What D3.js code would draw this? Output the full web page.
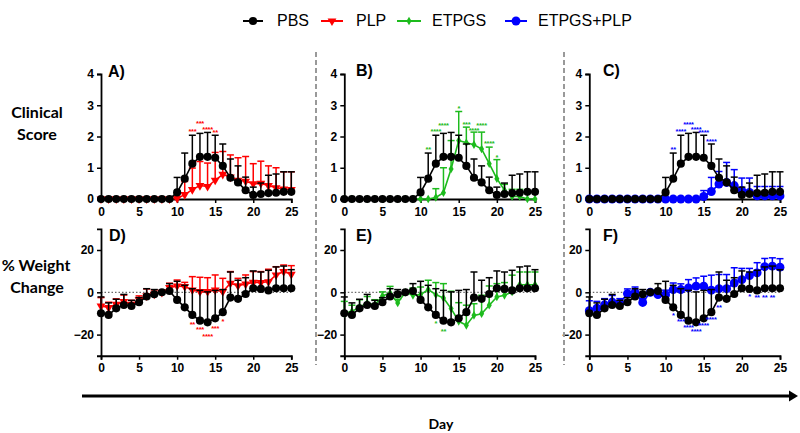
<!DOCTYPE html>
<html><head><meta charset="utf-8">
<script src="https://cdn.jsdelivr.net/npm/d3@7"></script>
<style>body{margin:0;background:#fff}</style>
</head><body><svg id="c" width="800" height="433"></svg>
<script>
const days = [0,1,2,3,4,5,6,7,8,9,10,11,12,13,14,15,16,17,18,19,20,21,22,23,24,25];
const xTicks = [0,5,10,15,20,25];
const scoreTicks = [0,1,2,3,4];
const weightTicks = [-20,0,20];
const seriesNames = ["PBS","PLP","ETPGS","ETPGS+PLP"];

// Clinical score (mean, SD upward)
const pbsScore   = [0,0,0,0,0,0,0,0,0,0,0.21,0.65,1.13,1.35,1.35,1.32,1.06,0.68,0.53,0.28,0.13,0.16,0.19,0.2,0.23,0.23];
const pbsScoreSD = [0,0,0,0,0,0,0,0,0,0,0.48,0.82,0.91,0.75,0.78,0.72,0.70,0.60,0.53,0.42,0.25,0.35,0.57,0.6,0.64,0.64];
const plpScore   = [0,0,0,0,0,0,0,0,0,0,0.02,0.14,0.3,0.43,0.4,0.6,0.79,0.7,0.6,0.57,0.49,0.5,0.43,0.36,0.32,0.3];
const plpScoreSD = [0,0,0,0,0,0,0,0,0,0,0,0.42,0.69,0.77,0.75,0.89,0.73,0.71,0.72,0.79,0.64,0.71,0.63,0.64,0.55,0.57];
const etpgsScore   = [0,0,0,0,0,0,0,0,0,0,0,0,0.05,0.2,0.96,1.87,1.8,1.74,1.6,1.13,0.65,0.28,0.08,0.08,0,0];
const etpgsScoreSD = [0,0,0,0,0,0,0,0,0,0,0,0,0.28,0.8,0.91,0.93,0.5,0.4,0.54,0.53,0.61,0.19,0.23,0.23,0,0];
const comboScore   = [0,0,0,0,0,0,0,0,0,0,0,0,0,0,0,0.08,0.24,0.48,0.53,0.43,0.27,0.21,0.1,0.1,0.1,0.1];
const comboScoreSD = [0,0,0,0,0,0,0,0,0,0,0,0,0,0,0,0.19,0.45,0.4,0.64,0.51,0.4,0.46,0.3,0.3,0.3,0.3];

// % weight change (mean, SD upward)
const pbsWeight   = [-9.9,-10.7,-7.6,-6.0,-6.5,-4.7,-2.0,-0.9,0,0.6,-3.6,-7.1,-10.7,-13.4,-14.2,-12.3,-9.4,-2.5,-3.1,-0.8,1.9,1.6,0.9,1.9,1.9,1.9];
const pbsWeightSD = [7.7,5.7,4.3,5,2.7,2.2,3.7,2.2,0,3.5,8.8,10.4,12.4,14.3,14.4,13.2,10.7,12.1,8.8,7.7,8.2,8,9.5,10.1,10.5,8.8];
const plpWeight   = [-6.5,-7.2,-5.7,-4.4,-5.7,-3.6,-1.7,-0.9,0,2.2,3,2.7,1.1,0.3,0.3,1.1,0.3,4.3,3.1,3.9,4.7,4.6,5,8.2,9.8,8.5];
const plpWeightSD = [4,2.5,2.6,3.1,1.9,1.9,3.3,2,0,2.1,2.8,2,6.3,6.8,6.6,7.1,6.3,5.5,3.5,4.3,5.1,5.2,5.9,3.9,3.1,4.1];
const etpgsWeight   = [-10,-9,-7,-5,-6,-1.7,-0.3,-5,0,-1.4,-1.1,1.3,-1.1,-2.7,-7.7,-13.7,-15.6,-10.9,-10.1,-6.1,-2.2,-1.4,0.2,3.6,3.6,3.6];
const etpgsWeightSD = [5.7,2.9,3.5,3,2.5,1.9,3.1,1.7,0,3.4,3.6,4.4,5.7,6.8,8.2,8.8,9.5,5.5,8.7,9.1,6.3,6,7.9,6,6,6];
const comboWeight   = [-8.7,-7.5,-5.9,-4.6,-5.1,-0.6,0,-4.8,0,-1.1,-1.1,1.3,1.3,2.1,2.9,2.9,1,1.7,1.7,4.4,6,7.9,9.2,12.1,12.4,11.9];
const comboWeightSD = [4.7,3.2,2.9,3.1,2.1,2.2,2.5,1.8,0,2.1,2.1,3.1,2.7,3.9,3.9,4.7,7.1,6.7,6.7,7.2,5.3,3.4,4.8,3.9,3.9,4];

// significance stars: [day, value at star centre, text]
const starsA = [[12,2.21,"***"],[13,2.45,"***"],[14,2.27,"****"],[15,2.19,"**"]];
const starsB = [[11,1.64,"**"],[12,2.22,"****"],[13,2.4,"****"],[15,2.96,"*"],[16,2.44,"***"],[17,2.24,"****"],[18,2.4,"****"],[19,1.82,"****"],[20,1.39,"*"]];
const starsC = [[11,1.63,"**"],[12,2.21,"****"],[13,2.43,"****"],[14,2.27,"****"],[15,2.18,"****"],[16,1.89,"****"]];
const starsD = [[12,-14.3,"**"],[13,-17,"***"],[14,-20.2,"****"],[15,-16.2,"***"],[16,-13.1,"*"]];
const starsE = [[12,-14,"*"],[13,-18,"**"]];
const starsF = [[11,-10.3,"*"],[12,-13,"***"],[13,-15.7,"****"],[14,-17.8,"****"],[15,-15.1,"****"],[16,-12.2,"****"],[17,-6.7,"**"],[21,-1.4,"*"],[22,-1.6,"**"],[23,-1.6,"**"],[24,-1.6,"**"]];

const colors = {"PBS":"#000000","PLP":"#ff0000","ETPGS":"#1dbb1d","ETPGS+PLP":"#0000ff"};
const symbols = {"PBS":{t:d3.symbolCircle,s:52,r:0},"PLP":{t:d3.symbolTriangle,s:34,r:180},"ETPGS":{t:d3.symbolDiamond,s:22,r:0},"ETPGS+PLP":{t:d3.symbolCircle,s:62,r:0}};

const svg = d3.select("#c");
const FONT = "'Liberation Sans', Arial, sans-serif";
const CAL = "Lato, 'Open Sans', sans-serif";

// legend
const legendItems = [
  {name:"PBS", l0:243, l1:263, m:253, tx:277},
  {name:"PLP", l0:321, l1:343, m:332, tx:356},
  {name:"ETPGS", l0:397, l1:421, m:409, tx:432},
  {name:"ETPGS+PLP", l0:505, l1:527, m:516, tx:538}
];
const lg = svg.append("g");
legendItems.forEach(it => {
  const c = colors[it.name], sy = symbols[it.name];
  lg.append("line").attr("x1",it.l0).attr("x2",it.l1).attr("y1",21).attr("y2",21).attr("stroke",c).attr("stroke-width",2);
  lg.append("path").attr("d",d3.symbol(sy.t, sy.s)()).attr("fill",c).attr("transform",`translate(${it.m},21) rotate(${sy.r})`);
  lg.append("text").attr("x",it.tx).attr("y",26).text(it.name).attr("font-family",FONT).attr("font-size",16).attr("fill","#000");
});

const scoreData = {"PBS":[pbsScore,pbsScoreSD],"PLP":[plpScore,plpScoreSD],"ETPGS":[etpgsScore,etpgsScoreSD],"ETPGS+PLP":[comboScore,comboScoreSD]};
const weightData = {"PBS":[pbsWeight,pbsWeightSD],"PLP":[plpWeight,plpWeightSD],"ETPGS":[etpgsWeight,etpgsWeightSD],"ETPGS+PLP":[comboWeight,comboWeightSD]};

const cols = [[101,291.3],[344.3,535],[589.3,780]];
const panels = [
  {lab:"A)", col:0, row:0, s:"PLP", stars:starsA, lx:108, ly:77},
  {lab:"B)", col:1, row:0, s:"ETPGS", stars:starsB, lx:356, ly:76},
  {lab:"C)", col:2, row:0, s:"ETPGS+PLP", stars:starsC, lx:603, ly:76},
  {lab:"D)", col:0, row:1, s:"PLP", stars:starsD, lx:109, ly:241},
  {lab:"E)", col:1, row:1, s:"ETPGS", stars:starsE, lx:356, ly:241},
  {lab:"F)", col:2, row:1, s:"ETPGS+PLP", stars:starsF, lx:603, ly:241}
];

panels.forEach(p => {
  const x = d3.scaleLinear().domain([0,25]).range(cols[p.col]);
  const y = p.row===0 ? d3.scaleLinear().domain([0,4]).range([199,74])
                      : d3.scaleLinear().domain([-30,30]).range([355.75,228.85]);
  const g = svg.append("g");
  const data = p.row===0 ? scoreData : weightData;

  if (p.row===1) {
    g.append("line").attr("x1",x(0)).attr("x2",x(25)).attr("y1",y(0)).attr("y2",y(0))
      .attr("stroke","#444").attr("stroke-width",1).attr("stroke-dasharray","1.5,2");
  }

  // axes
  const ya = g.append("g").attr("transform",`translate(${x(0)},0)`)
    .call(d3.axisLeft(y).tickValues(p.row===0?scoreTicks:weightTicks).tickFormat(d3.format("d")).tickSizeOuter(0).tickSize(4).tickPadding(3));
  const xa = g.append("g").attr("transform",`translate(0,${p.row===0?y(0):y(-30)})`)
    .call(d3.axisBottom(x).tickValues(xTicks).tickSizeOuter(0).tickSize(4).tickPadding(4));
  [ya,xa].forEach(a => {
    a.select(".domain").attr("stroke","#000").attr("stroke-width",1.8);
    a.selectAll(".tick line").attr("stroke","#000").attr("stroke-width",1.5);
    a.selectAll(".tick text").attr("font-family",FONT).attr("font-size",12).attr("font-weight","bold").attr("fill","#000");
  });

  const drawSeries = (name) => {
    const [m, sd] = data[name];
    const c = colors[name], sy = symbols[name];
    const sg = g.append("g");
    days.forEach((d,i) => {
      if (sd[i] > 0) {
        sg.append("line").attr("x1",x(d)).attr("x2",x(d)).attr("y1",y(m[i])).attr("y2",y(m[i]+sd[i]))
          .attr("stroke",c).attr("stroke-width",1.5);
        sg.append("line").attr("x1",x(d)-3.5).attr("x2",x(d)+3.5).attr("y1",y(m[i]+sd[i])).attr("y2",y(m[i]+sd[i]))
          .attr("stroke",c).attr("stroke-width",1.5);
      }
    });
    sg.append("path").datum(days).attr("fill","none").attr("stroke",c).attr("stroke-width",1.6)
      .attr("d", d3.line().x(d=>x(d)).y((d,i)=>y(m[i])));
    sg.selectAll("path.mk").data(days).enter().append("path").attr("class","mk")
      .attr("d", d3.symbol(sy.t, sy.s)()).attr("fill",c)
      .attr("transform",(d,i)=>`translate(${x(d)},${y(m[i])}) rotate(${sy.r})`);
  };
  drawSeries(p.s);
  drawSeries("PBS");

  // stars
  g.selectAll("text.st").data(p.stars).enter().append("text").attr("class","st")
    .attr("x",d=>x(d[0])).attr("y",d=>y(d[1])+4).attr("text-anchor","middle")
    .attr("font-family",FONT).attr("font-size",7.5).attr("letter-spacing",-0.3).attr("font-weight","bold")
    .attr("fill",colors[p.s]).text(d=>d[2]);

  g.append("text").attr("x",p.lx).attr("y",p.ly).text(p.lab).attr("font-family",FONT)
    .attr("font-size",16).attr("font-weight","bold").attr("fill","#000");
});

// separators
[316,564].forEach(sx => {
  svg.append("line").attr("x1",sx).attr("x2",sx).attr("y1",52).attr("y2",365)
    .attr("stroke","#999").attr("stroke-width",2).attr("stroke-dasharray","5,3");
});

// row labels
const rowLab = svg.append("g").attr("font-family",CAL).attr("font-weight","bold").attr("font-size",16).attr("text-anchor","middle").attr("fill","#000");
rowLab.append("text").attr("x",37).attr("y",118).text("Clinical");
rowLab.append("text").attr("x",37).attr("y",140).text("Score");
rowLab.append("text").attr("x",36).attr("y",271).text("% Weight");
rowLab.append("text").attr("x",37).attr("y",293).text("Change");

// Day arrow
svg.append("line").attr("x1",82).attr("x2",790).attr("y1",396).attr("y2",396).attr("stroke","#000").attr("stroke-width",3);
svg.append("path").attr("d","M789,390.5 L798,396 L789,401.5 Z").attr("fill","#000");
svg.append("text").attr("x",441).attr("y",429).attr("text-anchor","middle").attr("font-family",CAL)
  .attr("font-weight","bold").attr("font-size",14).text("Day");
</script>
</body></html>
